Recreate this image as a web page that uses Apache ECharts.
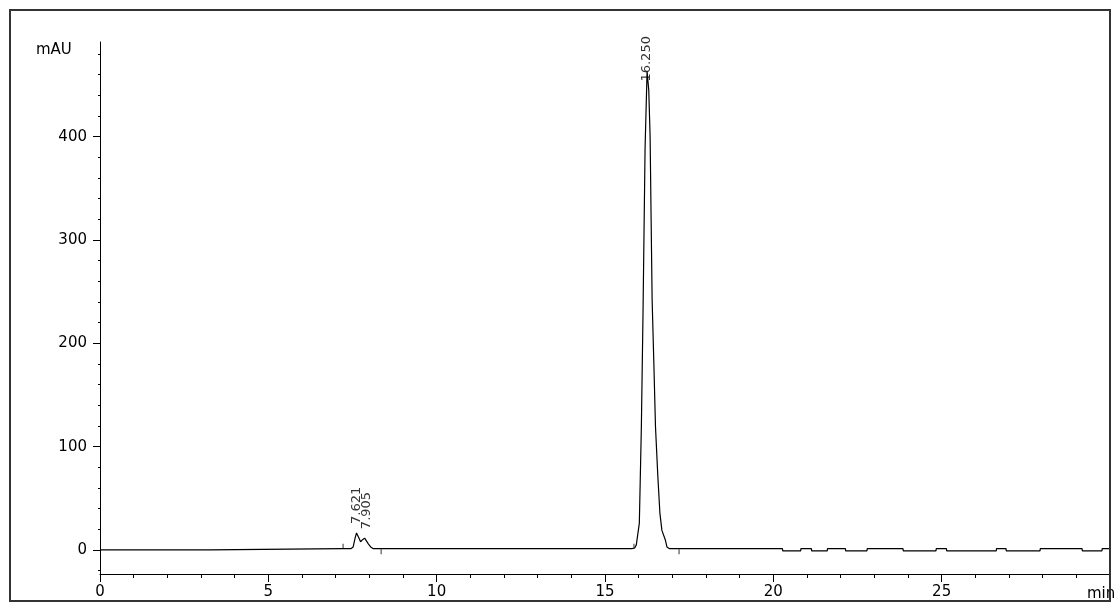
<!DOCTYPE html>
<html>
<head>
<meta charset="utf-8">
<script src="https://cdn.jsdelivr.net/npm/echarts@6/dist/echarts.min.js"></script>
<style>
  html, body { margin: 0; padding: 0; background: #fff; }
  #chart { width: 1116px; height: 603px; }
</style>
</head>
<body>
<div id="chart"></div>
<script>
// ---- data ----
const signalTime = [0, 3.27, 3.29, 7.20, 7.45, 7.52, 7.58, 7.62, 7.67, 7.74, 7.80, 7.86, 7.91, 7.97, 8.04, 8.12,
  15.80, 15.88, 15.93, 16.02, 16.08, 16.13, 16.19, 16.25, 16.30, 16.34, 16.37, 16.40, 16.45, 16.50, 16.57, 16.63, 16.69, 16.79, 16.84, 16.92,
  20.27, 20.28, 20.81, 20.82, 21.13, 21.14, 21.60, 21.61, 22.14, 22.15, 22.78, 22.79, 23.85, 23.86, 24.83, 24.84,
  25.14, 25.15, 26.62, 26.63, 26.91, 26.92, 27.92, 27.93, 29.17, 29.18, 29.76, 29.77, 30];
const signalMAU = [0.2, 0.2, 1.3, 1.3, 1.3, 3, 12, 16.5, 13, 8, 10, 11.5, 11, 6, 3, 1.3,
  1.3, 2, 5, 26, 119, 231, 388, 463, 445, 400, 320, 242, 182, 119, 71, 36, 19, 10, 3, 1.3,
  1.3, -0.8, -0.8, 1.3, 1.3, -0.8, -0.8, 1.3, 1.3, -0.8, -0.8, 1.3, 1.3, -0.8, -0.8, 1.3,
  1.3, -0.8, -0.8, 1.3, 1.3, -0.8, -0.8, 1.3, 1.3, -0.8, -0.8, 1.3, 1.3];
const peakTimes = [7.621, 7.905, 16.250];
const peakLabels = ['7.621', '7.905', '16.250'];
const peakHeights = [16.5, 11.5, 463];
const startMarkerTimes = [7.22, 15.86];
const endMarkerTimes = [8.35, 17.2];
const markerLevel = 1.3;
const xTickLabels = [0, 5, 10, 15, 20, 25];
const yTickLabels = [0, 100, 200, 300, 400];
const yMinorTicks = [-20, 20, 40, 60, 80, 120, 140, 160, 180, 220, 240, 260, 280, 320, 340, 360, 380, 420, 440, 460, 480];
const yUnit = 'mAU';
const xUnit = 'min';

// ---- chart ----
const FONT = 'DejaVu Sans';
const yMin = -23.2, yMax = 491.6;
const signal = signalTime.map((t, i) => [t, signalMAU[i]]);
const labelPts = peakTimes.map((t, i) => ({
  value: [t, peakHeights[i]],
  name: peakLabels[i],
  label: { distance: peakHeights[i] > 400 ? -10 : 9 }
}));

const chart = echarts.init(document.getElementById('chart'), null, { renderer: 'canvas' });
chart.setOption({
  animation: false,
  backgroundColor: '#fff',
  grid: { left: 100, right: 6, top: 42, bottom: 29, containLabel: false },
  xAxis: {
    type: 'value', min: 0, max: 30, interval: 5,
    axisLine: { onZero: false, lineStyle: { color: '#000', width: 1 } },
    axisTick: { length: 8, lineStyle: { color: '#000' } },
    minorTick: { show: true, splitNumber: 5, length: 4, lineStyle: { color: '#000' } },
    splitLine: { show: false }, minorSplitLine: { show: false },
    axisLabel: {
      color: '#000', fontFamily: FONT, fontSize: 15, margin: 11,
      formatter: v => (xTickLabels.indexOf(v) >= 0 ? String(v) : '')
    }
  },
  yAxis: [{
    type: 'value', min: yMin, max: yMax,
    axisLine: { show: true, lineStyle: { color: '#000', width: 1 } },
    axisTick: { show: true, length: 7, customValues: yTickLabels, lineStyle: { color: '#000' } },
    axisLabel: { color: '#000', fontFamily: FONT, fontSize: 15, margin: 13, customValues: yTickLabels },
    splitLine: { show: false }
  }, {
    type: 'value', min: yMin, max: yMax, position: 'left',
    axisLine: { show: false },
    axisTick: { show: true, length: 2, customValues: yMinorTicks, lineStyle: { color: '#000' } },
    axisLabel: { show: false },
    splitLine: { show: false }
  }],
  series: [{
    type: 'line', data: signal, showSymbol: false, symbol: 'none',
    lineStyle: { color: '#000', width: 1.2 }, silent: true, z: 3
  }, {
    type: 'scatter', data: labelPts, symbolSize: 0, silent: true, z: 4,
    label: {
      show: true, position: 'top', rotate: 90, align: 'left', verticalAlign: 'middle',
      formatter: p => p.name, color: '#000', fontFamily: FONT, fontSize: 13
    }
  }, {
    type: 'scatter', data: startMarkerTimes.map(t => [t, markerLevel]),
    symbol: 'rect', symbolSize: [1, 5], symbolOffset: [0, -2.5],
    itemStyle: { color: '#000' }, silent: true, z: 3
  }, {
    type: 'scatter', data: endMarkerTimes.map(t => [t, markerLevel]),
    symbol: 'rect', symbolSize: [1, 5], symbolOffset: [0, 3],
    itemStyle: { color: '#000' }, silent: true, z: 3
  }],
  graphic: [
    { type: 'text', left: 36, top: 43, z: 10,
      style: { text: yUnit, fill: '#000', font: '15px "' + FONT + '"' } },
    { type: 'text', left: 1087, top: 587, z: 10,
      style: { text: xUnit, fill: '#000', font: '15px "' + FONT + '"' } },
    { type: 'rect', shape: { x: 10, y: 10, width: 1100, height: 591 }, z: 20,
      style: { fill: 'none', stroke: '#333', lineWidth: 2 } }
  ]
});
</script>
</body>
</html>
